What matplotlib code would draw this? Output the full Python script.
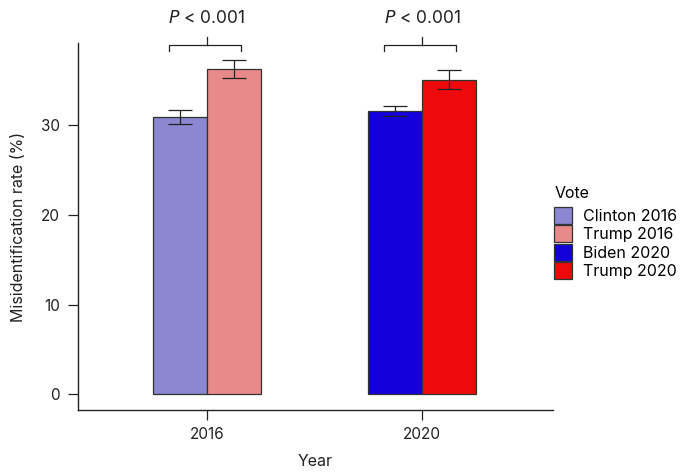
import numpy as np
import matplotlib.pyplot as plt
from matplotlib.patches import Patch

plt.rcParams['font.family'] = ['Inter', 'DejaVu Sans']

years = ['2016', '2020']
groups = ['Clinton 2016', 'Trump 2016', 'Biden 2020', 'Trump 2020']
rates = [30.9, 36.3, 31.6, 35.1]
errors = [0.8, 1.05, 0.6, 1.05]
colors = ['#8b87d0', '#e8898a', '#1400d8', '#ee0a0a']
p_labels = ['< 0.001', '< 0.001']

fig = plt.figure(figsize=(6.87, 4.72), dpi=100)
ax = fig.add_axes([78 / 687, 1 - 410 / 472, (553 - 78) / 687, (410 - 43) / 472])

x = np.arange(len(years))
w = 0.251
pos = [x[0] - w / 2, x[0] + w / 2, x[1] - w / 2, x[1] + w / 2]
ax.bar(pos, rates, width=w, color=colors, edgecolor='#333333', linewidth=0.9, zorder=2)
ax.errorbar(pos, rates, yerr=errors, fmt='none', ecolor='#222222',
            elinewidth=0.9, capsize=8.3, capthick=0.9, zorder=3)

# significance brackets above each year
for xi, lab in zip(x, p_labels):
    l, r = xi - 0.177, xi + 0.158
    ax.plot([l, l, r, r], [38.3, 39.0, 39.0, 38.3], color='#222222', lw=0.9, clip_on=False)
    ax.plot([xi, xi], [39.0, 39.9], color='#222222', lw=0.9, clip_on=False)
    ax.text(xi, 41.0, r'$\it{P}$ ' + lab, ha='center', va='bottom', fontsize=12.5,
            color='#222222', clip_on=False)

ax.set_xlim(-0.6, 1.609)
ax.set_ylim(-1.78, 39.2)
ax.set_xticks(x)
ax.set_xticklabels(years)
ax.set_yticks([0, 10, 20, 30])
ax.tick_params(direction='out', length=7, width=0.9, labelsize=11, colors='#222222', pad=6)
ax.tick_params(axis='x', pad=5)
for s in ['top', 'right']:
    ax.spines[s].set_visible(False)
for s in ['left', 'bottom']:
    ax.spines[s].set_linewidth(1.0)
    ax.spines[s].set_color('#222222')

ax.set_xlabel('Year', fontsize=11.5, color='#222222', labelpad=9)
ax.set_ylabel('Misidentification rate (%)', fontsize=11.5, color='#222222', labelpad=11)

handles = [Patch(facecolor=c, edgecolor='#333333', linewidth=0.9) for c in colors]
leg = fig.legend(handles, groups, title='Vote', loc='upper left',
                 bbox_to_anchor=(548 / 687, 1 - 180 / 472), frameon=False,
                 fontsize=11.5, title_fontsize=11.5, handlelength=1.1, handleheight=1.25,
                 handletextpad=0.7, labelspacing=0.1, borderaxespad=0)
leg._legend_box.align = 'left'
leg._legend_box.sep = 4

fig.savefig('out.png', dpi=100)
